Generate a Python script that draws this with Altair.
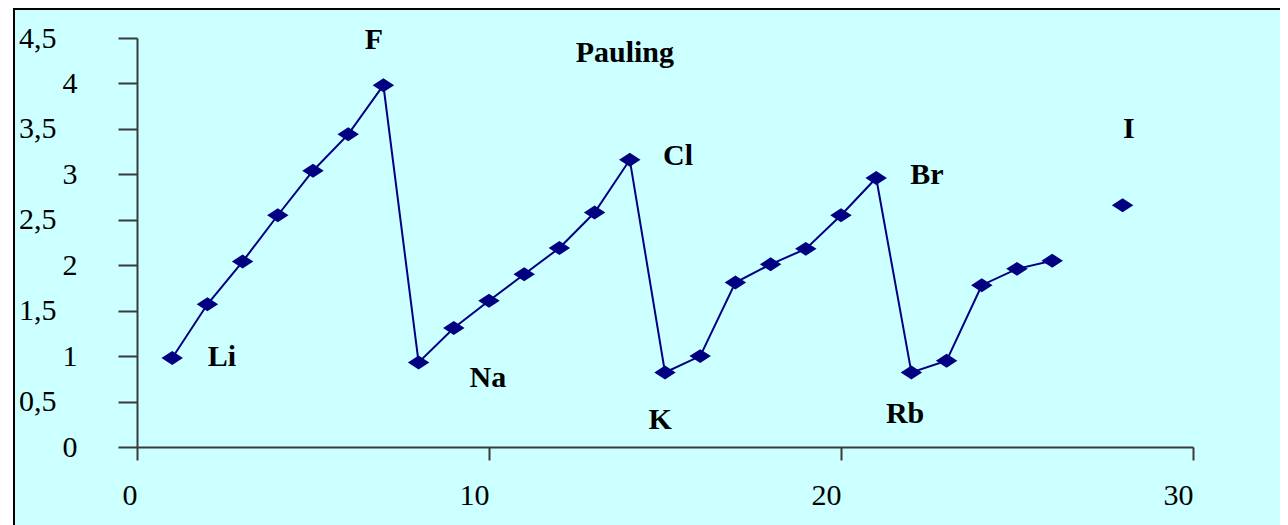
import altair as alt
import pandas as pd

# Electronegativity (Pauling) vs atomic index
xs = [1, 2, 3, 4, 5, 6, 7, 8, 9, 10, 11, 12, 13, 14, 15, 16, 17, 18, 19, 20,
      21, 22, 23, 24, 25, 26, 28]
ys = [0.98, 1.57, 2.04, 2.55, 3.04, 3.44, 3.98, 0.93, 1.31, 1.61, 1.90, 2.19,
      2.58, 3.16, 0.82, 1.00, 1.81, 2.01, 2.18, 2.55, 2.96, 0.82, 0.95, 1.78,
      1.96, 2.05, 2.66]

label_text = ["Li", "F", "Na", "Cl", "K", "Br", "Rb", "I", "Pauling"]
label_x = [2.41, 6.73, 9.97, 15.37, 14.86, 22.44, 21.82, 28.18, 13.86]
label_y = [0.99, 4.48, 0.76, 3.20, 0.30, 2.99, 0.36, 3.50, 4.33]

y_ticks = [0, 0.5, 1, 1.5, 2, 2.5, 3, 3.5, 4, 4.5]
x_ticks = [0, 10, 20, 30]

W, H = 1056, 409
FONT = "Liberation Serif"
NAVY = "#000080"
AX = "#3a3a3a"

df = pd.DataFrame({"x": xs, "y": ys})
lab = pd.DataFrame({"t": label_text, "x": label_x, "y": label_y})

xscale = alt.Scale(domain=[0, 30], nice=False, zero=False)
yscale = alt.Scale(domain=[0, 4.5], nice=False)

xaxis = alt.Axis(values=x_ticks, title=None, grid=False, tickSize=13,
                 labelAlign="right", labelBaseline="top", labelPadding=20,
                 labelFont=FONT, labelFontSize=30, labelColor="black",
                 domainColor=AX, tickColor=AX, domainWidth=2, tickWidth=2,
                 labelFlush=False, labelOverlap=False, zindex=1)
yaxis = alt.Axis(values=y_ticks, title=None, grid=False, tickSize=19,
                 labelExpr="replace(toString(datum.value), '.', ',')",
                 labelPadding={"condition": {"test": "datum.value % 1 == 0", "value": 41},
                               "value": 62},
                 labelFont=FONT, labelFontSize=30, labelColor="black",
                 labelBaseline="middle", labelAlign="right",
                 domainColor=AX, tickColor=AX, domainWidth=2, tickWidth=2,
                 labelFlush=False, labelOverlap=False, zindex=1)

one = alt.Data(values=[{}])

frame = alt.Chart(one).mark_rect(fill="#CCFFFF", strokeWidth=0).encode(
    x=alt.value(-123), x2=alt.value(W + 120),
    y=alt.value(-29), y2=alt.value(H + 120),
)
border_top = alt.Chart(one).mark_rule(color="black", strokeWidth=2).encode(
    x=alt.value(-124), x2=alt.value(W + 120), y=alt.value(-29),
)
border_left = alt.Chart(one).mark_rule(color="black", strokeWidth=2).encode(
    x=alt.value(-123), y=alt.value(-30), y2=alt.value(H + 120),
)

base = alt.Chart(df)

line = base.transform_filter("datum.x <= 26").mark_line(
    color=NAVY, strokeWidth=2
).encode(
    x=alt.X("x:Q", scale=xscale, axis=xaxis),
    y=alt.Y("y:Q", scale=yscale, axis=yaxis),
)

points = base.mark_point(
    shape="M-1,0L0,-0.65L1,0L0,0.65Z", filled=True, color=NAVY, opacity=1,
    size=460
).encode(
    x=alt.X("x:Q", scale=xscale),
    y=alt.Y("y:Q", scale=yscale),
)

labels = alt.Chart(lab).mark_text(
    font=FONT, fontSize=30, fontWeight="bold", color="black",
    align="center", baseline="middle"
).encode(
    x=alt.X("x:Q", scale=xscale),
    y=alt.Y("y:Q", scale=yscale),
    text="t:N",
)

chart = alt.layer(frame, border_top, border_left, line, points, labels).properties(
    width=W, height=H,
    autosize=alt.AutoSizeParams(type="none"),
    padding={"left": 129, "top": 30, "right": 87, "bottom": 78},
    background="white",
).configure_view(stroke=None)

chart.save("out.html", embed_options={"renderer": "svg", "actions": False})
